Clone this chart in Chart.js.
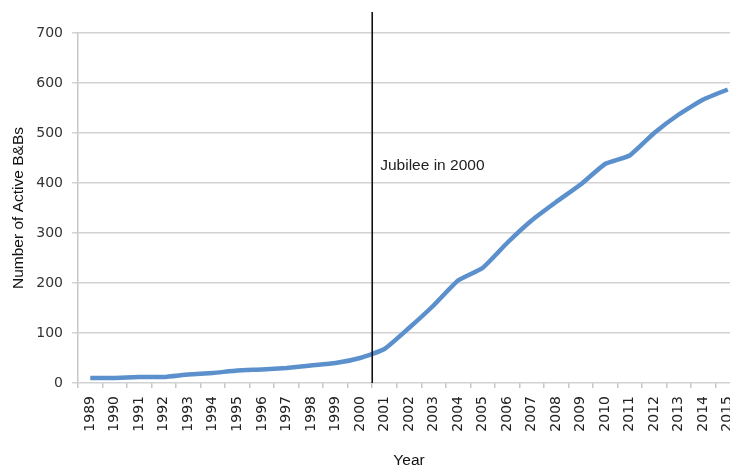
<!DOCTYPE html>
<html>
<head>
<meta charset="utf-8">
<script src="https://cdn.jsdelivr.net/npm/chart.js@4"></script>
<style>
  html, body { margin: 0; padding: 0; background: #fff; overflow: hidden; }
  canvas { display: block; }
</style>
</head>
<body>
<canvas id="chart" width="740" height="471"></canvas>
<script>
const years = ["1989","1990","1991","1992","1993","1994","1995","1996","1997","1998","1999","2000","2001",
  "2002","2003","2004","2005","2006","2007","2008","2009","2010","2011","2012","2013","2014","2015"];
const activeBnbs = [10, 10, 12, 12, 17, 20, 25, 27, 30, 35, 40, 50, 68,
  110, 155, 205, 230, 280, 325, 362, 397, 438, 455, 500, 537, 567, 587];
const yTicks = [0, 100, 200, 300, 400, 500, 600, 700];
const jubileeAfter = "2000";
const jubileeText = "Jubilee in 2000";
const jubileeLabelY = 434;

const tickFont = { family: "'DejaVu Sans'", size: 14 };
const titleFont = { family: "'Liberation Sans'", size: 15.5 };

// vertical marker between 2000 and 2001, with its label
const jubileeLine = {
  id: "jubileeLine",
  afterDatasetsDraw(chart) {
    const { ctx, scales } = chart;
    const i = years.indexOf(jubileeAfter);
    const x = (scales.x.getPixelForValue(i) + scales.x.getPixelForValue(i + 1)) / 2;
    ctx.save();
    ctx.strokeStyle = "#111";
    ctx.lineWidth = 1.6;
    ctx.beginPath();
    ctx.moveTo(x, scales.y.getPixelForValue(742));
    ctx.lineTo(x, scales.y.getPixelForValue(0));
    ctx.stroke();
    ctx.fillStyle = "#222";
    ctx.font = "15.5px 'Liberation Sans', Arial, sans-serif";
    ctx.textBaseline = "middle";
    ctx.fillText(jubileeText, x + 8, scales.y.getPixelForValue(jubileeLabelY));
    ctx.restore();
  }
};

new Chart(document.getElementById("chart"), {
  type: "line",
  data: {
    labels: years,
    datasets: [{
      data: activeBnbs,
      borderColor: "#5b90cd",
      borderWidth: 4.5,
      pointRadius: 0,
      tension: 0.15,
      fill: false
    }]
  },
  options: {
    responsive: false,
    animation: false,
    layout: { padding: { top: 33, right: 0, left: 9, bottom: 1 } },
    plugins: { legend: { display: false }, tooltip: { enabled: false } },
    scales: {
      x: {
        offset: true,
        afterFit(axis) {
          axis.height = 87;
          axis.paddingLeft = 0;
          axis.paddingRight = 0;
        },
        grid: { offset: true, drawOnChartArea: false, drawTicks: true, tickLength: 5, color: "#c8c8c8", lineWidth: 1.5 },
        border: { display: false },
        ticks: {
          minRotation: 90, maxRotation: 90, autoSkip: false, padding: 8,
          color: "#222", font: tickFont
        },
        title: {
          display: true, text: "Year", color: "#111", font: titleFont,
          padding: { top: 0, bottom: 0 }
        }
      },
      y: {
        min: 0, max: 700,
        afterFit(axis) { axis.width = 69; },
        afterBuildTicks(axis) { axis.ticks = yTicks.map(v => ({ value: v })); },
        grid: { color: "#d2d2d2", lineWidth: 1.5, tickLength: 6 },
        border: { color: "#c8c8c8", width: 1.5 },
        ticks: { padding: 9, color: "#333", font: tickFont },
        title: {
          display: true, text: "Number of Active B&Bs", color: "#111", font: titleFont,
          padding: { top: 0, bottom: 0 }
        }
      }
    }
  },
  plugins: [jubileeLine]
});
</script>
</body>
</html>
